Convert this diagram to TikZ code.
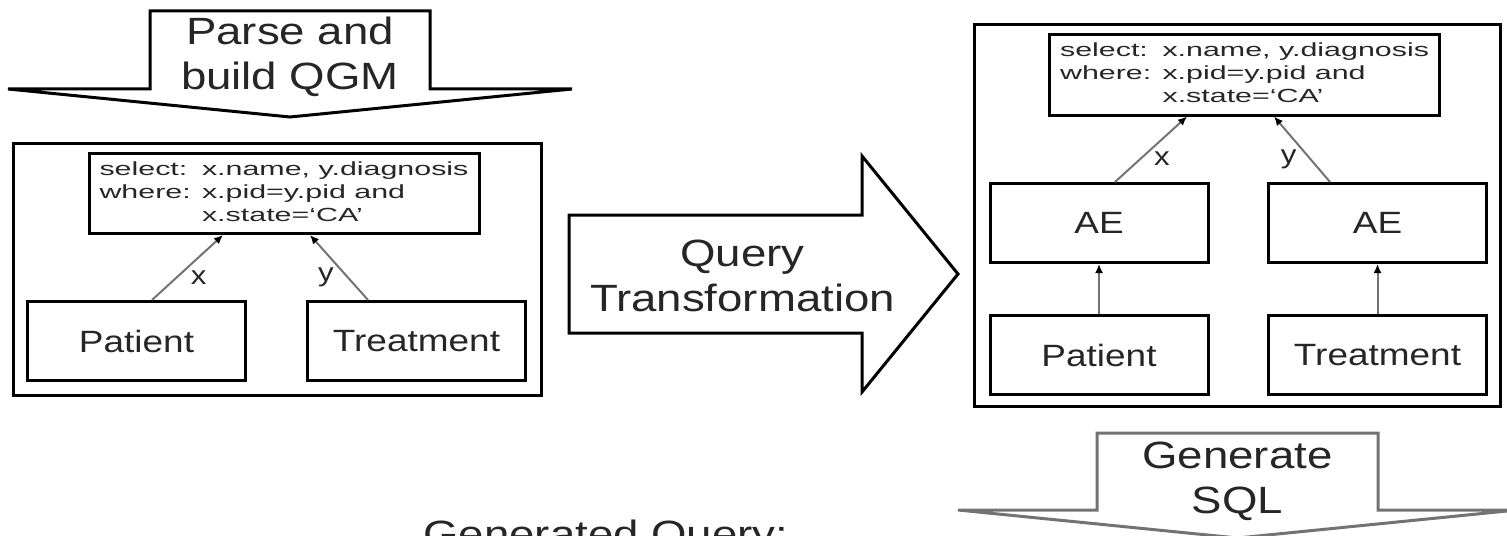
\documentclass[tikz,border=0pt]{standalone}
\usepackage{fontspec}
\setmainfont{Liberation Sans}[FakeStretch=1.2]
\newfontfamily\qryfam{Liberation Sans}[FakeStretch=1.6]
\usetikzlibrary{arrows.meta}

\newcommand{\qgmquery}{%
  \begin{tabular}{@{}l@{ }l@{}}
    select: & x.name, y.diagnosis\\
    where:  & x.pid=y.pid and\\
            & x.state=‘CA’
  \end{tabular}}

\begin{document}
\begin{tikzpicture}[x=0.5pt,y=-0.5pt,>={Latex[length=4.5pt,width=4pt,color=black]},
  box/.style={draw,line width=1.5pt,minimum width=109pt,minimum height=39.5pt,inner sep=0pt,text=black!85,font=\fontsize{15.4}{18}\selectfont},
  qbox/.style={draw,line width=1.5pt,minimum width=195pt,minimum height=40pt,inner sep=0pt,text=black!85,font=\qryfam\fontsize{9.5}{11.5}\selectfont},
  link/.style={->,draw=black!55,line width=1pt},
  lbl/.style={inner sep=1pt,text=black!85,font=\fontsize{13}{15}\selectfont},
  callout/.style={line width=1.5pt,line join=miter},
  steptxt/.style={align=center,inner sep=0pt,text=black!85,font=\fontsize{19}{22.5}\selectfont}]
\useasboundingbox (0,0) rectangle (1507,535);

% step arrows
\draw[callout] (8,89) -- (150,89) -- (150,11) -- (430,11) -- (430,89) -- (572,89) -- (290,117) -- cycle;
\node[steptxt] (parse) at (290,57) {Parse and\\build QGM};
\draw[callout] (569,215) -- (862,215) -- (862,156) -- (958,274) -- (862,392) -- (862,333) -- (569,333) -- cycle;
\node[steptxt] (transform) at (742.5,276) {Query\\Transformation};
\draw[callout,draw=black!55] (958,510) -- (1097,510) -- (1097,433) -- (1378,433) -- (1378,510) -- (1517,510) -- (1237.5,538) -- cycle;
\node[steptxt] (gensql) at (1237.5,481.5) {Generate\\SQL};
\node[steptxt,anchor=base west] (genquery) at (423,547) {Generated Query:};

% QGM before rewrite
\draw[line width=1.5pt] (13,143) rectangle (541,395);
\node[qbox] (qryL) at (284,193.5) {\qgmquery};
\foreach \nm/\px/\py/\txt in {patL/136.5/341/Patient, trtL/416.5/341/Treatment}
  \node[box] (\nm) at (\px,\py) {\txt};
\draw[link] ([xshift=7.75pt]patL.north) -- node[lbl,pos=.35,right=5.5pt] {x} ([xshift=-30.5pt]qryL.south);
\draw[link] ([xshift=-24.25pt]trtL.north) -- node[lbl,pos=.35,left=5.5pt] {y} ([xshift=13pt]qryL.south);

% QGM after rewrite
\draw[line width=1.5pt] (974,25) rectangle (1500,406);
\node[qbox] (qryR) at (1244.5,75) {\qgmquery};
\foreach \nm/\px/\py/\txt in {aeL/1099/223/AE, aeR/1377.5/223/AE, patR/1099/355/Patient, trtR/1377.5/355/Treatment}
  \node[box] (\nm) at (\px,\py) {\txt};
\draw[link] ([xshift=8pt]aeL.north) -- node[lbl,pos=.35,right=5.5pt] {x} ([xshift=-28.75pt]qryR.south);
\draw[link] ([xshift=-23.75pt]aeR.north) -- node[lbl,pos=.35,left=5.5pt] {y} ([xshift=14.75pt]qryR.south);
\draw[link] (patR) -- (aeL);
\draw[link] (trtR) -- (aeR);
\end{tikzpicture}
\end{document}
